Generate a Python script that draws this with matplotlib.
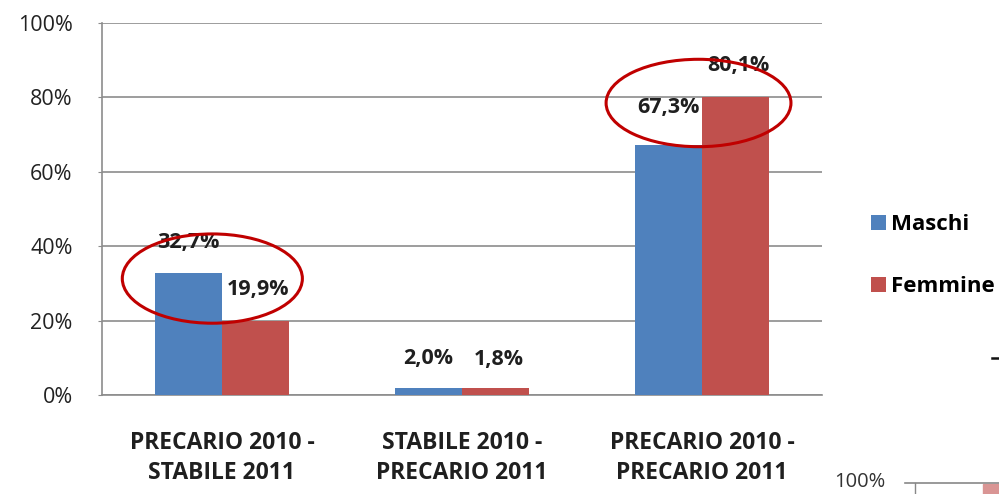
import matplotlib
matplotlib.use("Agg")
import matplotlib.pyplot as plt
import numpy as np
from matplotlib.patches import Ellipse, Patch, Rectangle
from matplotlib.lines import Line2D

plt.rcParams['font.family'] = ['Open Sans', 'DejaVu Sans']

categories = ["PRECARIO 2010 -\nSTABILE 2011", "STABILE 2010 -\nPRECARIO 2011", "PRECARIO 2010 -\nPRECARIO 2011"]
maschi = [32.7, 2.0, 67.3]
femmine = [19.9, 1.8, 80.1]
maschi_labels = ["32,7%", "2,0%", "67,3%"]
femmine_labels = ["19,9%", "1,8%", "80,1%"]
yticks = [0, 20, 40, 60, 80, 100]
ytick_labels = ["0%", "20%", "40%", "60%", "80%", "100%"]

blue = "#4F81BD"
red = "#C0504D"
grid = "#8C8C8C"
txt = "#1f1f1f"

fig = plt.figure(figsize=(9.99, 4.94), dpi=100)
ax = fig.add_axes([0.102, 0.2004, 0.721, 0.753])

x = np.arange(len(categories))
w = 0.28
ax.bar(x - w/2, maschi, w, color=blue, zorder=3)
ax.bar(x + w/2, femmine, w, color=red, zorder=3)

m_off = [22, 21, 27]
f_off = [23, 21, 23]
for i in range(len(categories)):
    ax.annotate(maschi_labels[i], (x[i] - w/2, maschi[i]), xytext=(0, m_off[i]), textcoords="offset points",
                ha="center", va="center", fontsize=15.5, fontweight="bold", color=txt, zorder=5)
    ax.annotate(femmine_labels[i], (x[i] + w/2, femmine[i]), xytext=(2, f_off[i]), textcoords="offset points",
                ha="center", va="center", fontsize=15.5, fontweight="bold", color=txt, zorder=5)

ax.set_xlim(-0.5, 2.5)
ax.set_ylim(0, 100)
ax.set_yticks(yticks)
ax.set_yticklabels(ytick_labels, fontsize=15.5, color="#222222")
ax.set_xticks(x)
ax.set_xticklabels(categories, fontsize=16.5, fontweight="bold", color=txt, linespacing=1.3)
ax.tick_params(axis="x", length=0, pad=26)
ax.tick_params(axis="y", length=3, color=grid, pad=18)
ax.yaxis.grid(True, color=grid, linewidth=1.2, zorder=0)
ax.set_axisbelow(True)
for s in ["top", "right"]:
    ax.spines[s].set_visible(False)
for s in ["left", "bottom"]:
    ax.spines[s].set_color(grid)
    ax.spines[s].set_linewidth(1.2)

# red circles highlighting
ax.add_patch(Ellipse((-0.04, 31.3), 0.75, 24, fill=False, edgecolor="#C00000", linewidth=2.2, zorder=6, clip_on=False))
ax.add_patch(Ellipse((1.985, 78.5), 0.77, 23.5, fill=False, edgecolor="#C00000", linewidth=2.2, zorder=6, clip_on=False))

handles = [Patch(facecolor=blue, label="Maschi"), Patch(facecolor=red, label="Femmine")]
fig.legend(handles=handles, loc="center left", bbox_to_anchor=(0.852, 0.482), frameon=False,
           prop={"size": 16, "weight": "bold"}, handlelength=0.65, handleheight=0.65,
           handletextpad=0.25, labelspacing=1.85)

# fragments of a neighbouring chart at the bottom right
fig.text(0.861, 0.004, "100%", fontsize=14.5, color="#333333", ha="center", va="bottom")
fig.add_artist(Line2D([0.906, 1.0], [0.0223, 0.0223], color="#888888", linewidth=1.2))
fig.add_artist(Line2D([0.916, 0.916], [0.0, 0.0223], color="#888888", linewidth=1.0))
fig.add_artist(Rectangle((0.984, 0.0), 0.02, 0.02, color="#D99594"))
fig.add_artist(Line2D([0.993, 0.999], [0.275, 0.275], color="#111111", linewidth=1.8))

fig.savefig("out.png", dpi=100)
